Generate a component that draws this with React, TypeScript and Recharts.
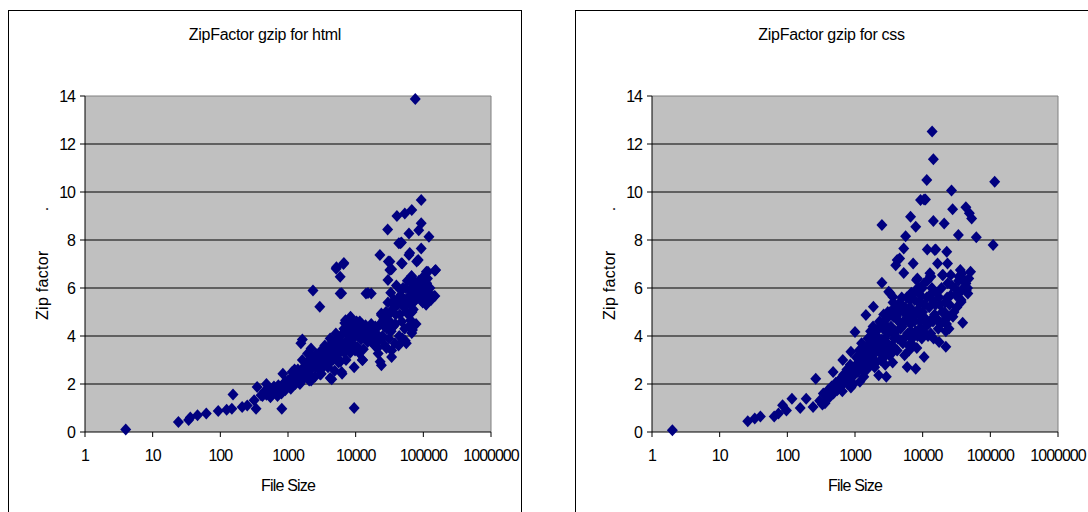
import React from 'react'
import { ScatterChart, Scatter, XAxis, YAxis, CartesianGrid, ReferenceLine } from 'recharts'

// file size (bytes) vs zip factor
const htmlOutliers: [number, number][] = [
  [4, 0.1], [24, 0.42], [34, 0.5], [36, 0.6], [46, 0.7], [62, 0.77], [93, 0.88], [124, 0.93],
  [148, 0.97], [154, 1.56], [210, 1.04], [250, 1.1], [337, 0.97], [316, 1.32], [350, 1.88],
  [400, 1.53], [480, 2.0], [570, 1.6], [640, 1.8], [810, 0.97], [840, 2.43], [910, 1.74],
  [1150, 2.5], [1290, 2.0], [1550, 3.7], [1630, 3.85], [1630, 3.0], [1950, 3.27], [2060, 2.15],
  [2190, 3.48], [2340, 5.9], [2950, 5.22], [3100, 2.43], [3700, 3.4], [4430, 2.2], [4980, 3.7],
  [5150, 6.8], [5900, 6.47], [6600, 7.0], [5900, 5.77], [6300, 2.43], [7070, 4.66], [8400, 4.8],
  [9500, 1.0], [9500, 2.7], [10700, 4.1], [12700, 3.0], [14200, 5.77], [17000, 5.77],
  [21500, 3.27], [22800, 7.37], [24000, 2.78], [24000, 4.94], [29700, 8.44], [30400, 7.1],
  [32000, 6.75], [30000, 6.33], [34000, 3.13], [40700, 9.0], [43400, 7.86], [45600, 7.86],
  [48700, 7.02], [53200, 9.1], [61300, 7.37], [61300, 8.27], [65000, 4.66], [67500, 4.13],
  [67500, 9.25], [76000, 13.87], [79700, 7.1], [85500, 8.41], [93000, 9.67], [93000, 8.7],
  [93000, 7.65], [110000, 5.5], [121000, 8.14], [117000, 6.68], [148000, 6.72], [144000, 5.66],
  [110000, 6.05], [47500, 7.9], [63000, 7.46], [32000, 7.1], [47500, 7.03], [84000, 7.17],
  [5200, 6.86], [6700, 7.04], [34000, 6.78], [152000, 6.75], [111000, 6.68], [67000, 6.47],
  [6200, 5.78], [148000, 5.67], [8200, 4.67], [6900, 4.54], [6200, 2.5], [4200, 2.25],
]

const htmlBand: [number, number][] = [
  [420, 1.5], [450, 1.7], [480, 1.55], [520, 1.75], [550, 1.45], [600, 1.65], [620, 1.9],
  [660, 1.7], [700, 1.5], [720, 1.95], [760, 1.75], [800, 1.6], [850, 2.0], [880, 1.8],
  [920, 2.1], [950, 1.9], [1000, 2.15], [1050, 1.95], [1100, 2.25], [1150, 2.05], [1200, 2.35],
  [1250, 2.1], [1300, 2.45], [1350, 2.2], [1400, 2.6], [1450, 2.3], [1500, 2.0], [1600, 2.45],
  [1700, 2.7], [1750, 2.25], [1800, 2.55], [1900, 2.9], [2000, 2.4], [2100, 3.0], [2200, 2.6],
  [2300, 3.1], [2400, 2.75], [2500, 2.3], [2600, 3.25], [2700, 2.9], [2800, 3.05], [2900, 2.6],
  [3000, 3.35], [3100, 2.85], [3200, 3.15], [3300, 2.7], [3400, 3.45], [3500, 3.6], [3600, 3.0],
  [3800, 3.25], [4000, 2.85], [4100, 3.55], [4300, 3.15], [4500, 3.75], [4700, 3.35],
  [4900, 2.55], [5000, 3.6], [5300, 3.2], [5500, 3.9], [5800, 3.45], [6000, 2.95], [6200, 4.05],
  [6500, 3.65], [6800, 3.3], [7000, 4.25], [7300, 3.8], [7600, 4.45], [7900, 3.5], [8200, 4.05],
  [8500, 4.55], [8800, 3.7], [9200, 4.2], [9600, 3.95], [10000, 4.35], [10500, 3.55],
  [11000, 4.1], [11500, 4.6], [12000, 3.85], [12500, 4.25], [13000, 3.45], [13500, 4.0],
  [14000, 4.45], [15000, 3.75], [15200, 5.79], [16000, 4.2], [17000, 4.5], [18000, 3.95],
  [19000, 3.6], [20000, 4.3], [21000, 4.05], [22000, 3.8], [23000, 4.5], [23000, 2.93],
  [24000, 4.87], [25000, 4.0], [26000, 4.7], [27000, 3.6], [28000, 5.0], [29000, 4.3],
  [30000, 5.4], [31000, 3.9], [32000, 4.6], [33000, 5.8], [34000, 3.4], [35000, 5.1],
  [36000, 4.4], [37000, 5.5], [38000, 3.7], [39000, 4.9], [40000, 6.1], [42000, 5.3],
  [44000, 4.0], [46000, 5.7], [48000, 4.6], [50000, 6.0], [52000, 5.2], [54000, 3.8],
  [56000, 3.7], [56000, 5.5], [58000, 6.3], [60000, 4.9], [62000, 5.6], [64000, 5.9],
  [66000, 6.4], [68000, 5.0], [69000, 4.25], [70000, 5.4], [72000, 6.0], [75000, 5.7],
  [78000, 4.5], [80000, 6.2], [84000, 5.8], [88000, 6.0], [92000, 5.5], [96000, 6.3],
  [100000, 5.9], [105000, 6.1], [110000, 5.3], [111000, 5.36], [115000, 6.4], [120000, 5.8],
  [12500, 3.0],
]

const htmlExtra: [number, number][] = [
  [1100, 1.8], [1250, 2.6], [1400, 2.1], [1700, 2.35], [2000, 2.85], [2200, 2.15], [2600, 2.7],
  [3000, 2.4], [3300, 3.0], [3600, 3.5], [3900, 2.7], [4200, 3.9], [4600, 3.0], [5100, 4.1],
  [5600, 2.9], [6100, 3.7], [6700, 4.3], [7200, 3.0], [7800, 4.6], [8300, 3.3], [9000, 4.4],
  [9800, 3.4], [10300, 4.6], [11200, 3.3], [11800, 4.2], [12300, 4.5], [13800, 3.9],
  [14800, 4.3], [16500, 3.8], [17500, 4.1], [19500, 4.4], [21000, 3.5], [24500, 3.9],
  [26500, 4.4], [28500, 3.5], [31000, 4.9], [33500, 4.2], [36500, 5.3], [38500, 4.5],
  [41000, 5.5], [43000, 3.6], [45000, 4.9], [47000, 5.9], [49000, 3.9], [51000, 5.4],
  [53000, 4.3], [55000, 6.0], [57000, 5.0], [59000, 5.6], [61000, 4.4], [63000, 6.3],
  [65000, 5.3], [67000, 6.5], [71000, 5.1], [73000, 6.1], [77000, 5.5], [82000, 5.6],
  [86000, 6.3], [90000, 5.7], [94000, 6.0], [98000, 5.4], [102000, 6.5], [108000, 5.8],
  [112000, 6.2], [125000, 6.0], [130000, 5.5],
]

const cssOutliers: [number, number][] = [
  [2, 0.07], [26, 0.45], [33, 0.56], [40, 0.65], [64, 0.65], [74, 0.77], [85, 1.11], [97, 0.9],
  [117, 1.39], [155, 1.0], [190, 1.39], [240, 1.04], [263, 2.22], [330, 1.15], [380, 1.46],
  [475, 2.5], [545, 1.74], [660, 3.0], [870, 3.34], [870, 1.85], [1000, 4.17], [1180, 2.09],
  [1450, 4.87], [1870, 5.22], [2500, 8.62], [2500, 6.22], [2240, 2.36], [2900, 2.3],
  [3150, 5.84], [3640, 5.63], [4000, 6.95], [4570, 7.23], [5250, 7.65], [5600, 8.16],
  [5250, 6.63], [5900, 2.71], [6620, 8.97], [7240, 7.02], [7900, 8.55], [7900, 2.64],
  [8350, 6.4], [9300, 9.67], [10500, 9.69], [11000, 9.69], [11500, 10.5], [10500, 3.13],
  [11700, 7.6], [13200, 6.47], [13800, 12.52], [14400, 11.36], [14400, 8.79], [15600, 7.6],
  [16600, 7.02], [17500, 3.75], [20800, 8.69], [19600, 6.54], [22700, 7.51], [23300, 7.02],
  [22000, 3.55], [26700, 10.06], [27700, 9.28], [26000, 6.54], [33700, 8.21], [36000, 6.75],
  [37000, 5.42], [39000, 4.55], [43500, 9.36], [49000, 9.11], [53000, 8.9], [51000, 6.68],
  [46500, 5.77], [62000, 8.11], [110000, 7.79], [116000, 10.43], [43500, 6.19], [34500, 6.47],
]

const cssBand: [number, number][] = [
  [300, 1.3], [340, 1.6], [360, 1.2], [400, 1.75], [420, 1.45], [450, 1.9], [480, 1.6],
  [520, 2.05], [560, 1.8], [600, 2.2], [640, 1.95], [680, 2.4], [720, 2.1], [760, 2.6],
  [800, 2.3], [850, 2.8], [900, 2.45], [950, 2.0], [1000, 2.7], [1050, 3.1], [1100, 2.5],
  [1150, 3.4], [1200, 2.8], [1250, 3.7], [1300, 3.0], [1350, 2.3], [1400, 3.55], [1450, 3.2],
  [1500, 2.6], [1550, 3.9], [1600, 3.35], [1650, 2.9], [1700, 4.2], [1750, 3.6], [1800, 3.1],
  [1850, 4.4], [1900, 3.75], [1950, 2.7], [2000, 3.3], [2100, 4.0], [2200, 3.5], [2300, 4.6],
  [2400, 3.0], [2500, 3.85], [2600, 4.3], [2700, 3.4], [2800, 2.8], [2900, 4.7], [3000, 3.7],
  [3100, 4.1], [3200, 3.2], [3300, 5.0], [3300, 5.78], [3400, 4.4], [3500, 3.6], [3600, 2.9],
  [3700, 4.8], [3800, 3.9], [3900, 5.2], [4000, 4.2], [4200, 3.4], [4200, 7.17], [4400, 4.6],
  [4600, 5.4], [4800, 3.8], [5000, 4.4], [5200, 5.0], [5400, 3.2], [5600, 4.7], [5800, 5.6],
  [6000, 4.1], [6200, 3.6], [6400, 5.2], [6600, 4.5], [6800, 5.8], [7000, 3.9], [7300, 4.9],
  [7600, 5.5], [7900, 4.2], [8100, 6.33], [8200, 3.5], [8500, 5.1], [8800, 6.0], [9100, 4.6],
  [9400, 5.4], [9700, 3.9], [10000, 5.0], [10500, 6.2], [11000, 4.4], [11500, 5.6],
  [12000, 4.0], [12500, 5.2], [12800, 6.61], [13000, 6.5], [13500, 4.7], [14000, 5.5],
  [14500, 3.9], [15000, 4.9], [15100, 7.58], [16000, 5.8], [17000, 4.3], [18000, 5.3],
  [19000, 6.0], [20000, 4.6], [20000, 6.54], [21000, 5.0], [22000, 4.2], [23000, 5.6],
  [24000, 4.8], [25000, 5.3], [27000, 6.1], [29000, 5.0], [31000, 5.7], [34000, 6.3],
  [37000, 5.5], [40000, 6.0], [44000, 5.9], [48000, 6.4],
]

const cssExtra: [number, number][] = [
  [650, 1.7], [780, 2.0], [880, 2.25], [980, 2.4], [1080, 2.85], [1180, 3.05], [1280, 2.6],
  [1380, 3.3], [1480, 2.85], [1580, 3.6], [1680, 3.0], [1780, 3.9], [1880, 3.3], [1980, 4.2],
  [2050, 2.9], [2150, 3.7], [2250, 4.3], [2350, 3.3], [2450, 4.5], [2550, 3.6], [2650, 4.9],
  [2750, 3.9], [2850, 3.2], [2950, 4.4], [3050, 5.0], [3150, 3.5], [3250, 4.3], [3450, 4.9],
  [3550, 3.3], [3650, 5.4], [3750, 4.1], [3850, 3.5], [4100, 4.8], [4300, 3.9], [4500, 5.0],
  [4700, 4.3], [4900, 5.6], [5100, 3.7], [5300, 4.6], [5500, 5.2], [5700, 4.0], [5900, 5.0],
  [6100, 4.7], [6300, 3.4], [6500, 5.5], [6700, 4.2], [6900, 5.1], [7200, 3.6], [7500, 4.6],
  [7800, 5.9], [8000, 4.9], [8400, 4.0], [8700, 5.4], [9000, 4.3], [9300, 5.7], [9600, 4.8],
  [9900, 6.0], [10200, 4.2], [10700, 5.3], [11200, 4.7], [11700, 6.3], [12200, 4.5],
  [12700, 5.7], [13200, 4.1], [13700, 6.0], [14200, 4.6], [15500, 5.3], [16500, 4.7],
  [17500, 5.6], [18500, 4.5], [19500, 5.0], [21500, 5.4], [22500, 4.5], [23500, 6.2],
  [24500, 4.3], [26000, 5.7], [28000, 4.8], [30000, 6.0], [32000, 5.2], [35000, 5.8],
  [38000, 6.6], [42000, 6.3], [46000, 6.0],
]

const xTicks = [1, 10, 100, 1000, 10000, 100000, 1000000]
const yTicks = [0, 2, 4, 6, 8, 10, 12, 14]
const gridValues = [2, 4, 6, 8, 10, 12]

const toRows = (pts: [number, number][]) => pts.map(([size, zip]) => ({ size, zip }))

const Diamond = (props: any) => {
  const { cx, cy } = props
  if (cx == null || cy == null) return null
  return (
    <path
      d={`M${cx},${cy - 6}L${cx + 5.5},${cy}L${cx},${cy + 6}L${cx - 5.5},${cy}Z`}
      fill="#000080"
    />
  )
}

const tickStyle = { fill: '#000', fontSize: 16, letterSpacing: -1 }

interface PanelProps {
  left: number
  boxWidth: number
  titleWidth: number
  title: string
  points: [number, number][]
}

const Panel: React.FC<PanelProps> = ({ left, boxWidth, titleWidth, title, points }) => {
  const data = toRows(points)
  return (
    <>
      <div
        style={{
          position: 'absolute', left, top: 10, width: boxWidth, height: 600,
          border: '1px solid #000', boxSizing: 'border-box',
        }}
      />
      <div
        style={{
          position: 'absolute', left, top: 26, width: titleWidth, textAlign: 'center',
          fontSize: 16, lineHeight: '18px', letterSpacing: '-0.3px', color: '#000',
        }}
      >
        {title}
      </div>
      <div style={{ position: 'absolute', left: left + 1, top: 11, width: 512, height: 501 }}>
        <ScatterChart width={512} height={501} margin={{ top: 85, right: 30, bottom: 0, left: 0 }}>
          <CartesianGrid horizontal={false} vertical={false} fill="#C0C0C0" />
          {gridValues.map(v => (
            <ReferenceLine key={v} y={v} stroke="#000" strokeWidth={1} />
          ))}
          <ReferenceLine y={14} stroke="#808080" />
          <ReferenceLine x={1000000} stroke="#808080" />
          <XAxis
            type="number"
            dataKey="size"
            scale="log"
            domain={[1, 1000000]}
            ticks={xTicks}
            interval={0}
            allowDataOverflow
            height={80}
            tickSize={5}
            tickMargin={13}
            axisLine={{ stroke: '#000' }}
            tickLine={{ stroke: '#000' }}
            tick={tickStyle}
          />
          <YAxis
            type="number"
            dataKey="zip"
            domain={[0, 14]}
            ticks={yTicks}
            interval={0}
            width={76}
            tickSize={5}
            tickMargin={5}
            axisLine={{ stroke: '#000' }}
            tickLine={{ stroke: '#000' }}
            tick={tickStyle}
          />
          <Scatter data={data} shape={Diamond} isAnimationActive={false} />
        </ScatterChart>
      </div>
      <div
        style={{
          position: 'absolute', left: left + 77, top: 477, width: 406, textAlign: 'center',
          fontSize: 16, lineHeight: '18px', letterSpacing: '-0.8px', color: '#000',
        }}
      >
        File Size
      </div>
      <div
        style={{
          position: 'absolute', left: left + 26, top: 320, transform: 'rotate(-90deg)',
          transformOrigin: '0 0', whiteSpace: 'nowrap', fontSize: 16, lineHeight: '18px',
          letterSpacing: '0.3px', color: '#000',
        }}
      >
        Zip factor<span style={{ marginLeft: 39 }}>.</span>
      </div>
    </>
  )
}

export default function App() {
  return (
    <div
      style={{
        position: 'absolute', left: 0, top: 0, width: 1088, height: 512, overflow: 'hidden',
        background: '#fff', fontFamily: '"Liberation Sans", Arial, sans-serif',
      }}
    >
      <Panel
        left={8}
        boxWidth={514}
        titleWidth={514}
        title="ZipFactor gzip for html"
        points={[...htmlOutliers, ...htmlBand, ...htmlExtra]}
      />
      <Panel
        left={575}
        boxWidth={600}
        titleWidth={513}
        title="ZipFactor gzip for css"
        points={[...cssOutliers, ...cssBand, ...cssExtra]}
      />
    </div>
  )
}
